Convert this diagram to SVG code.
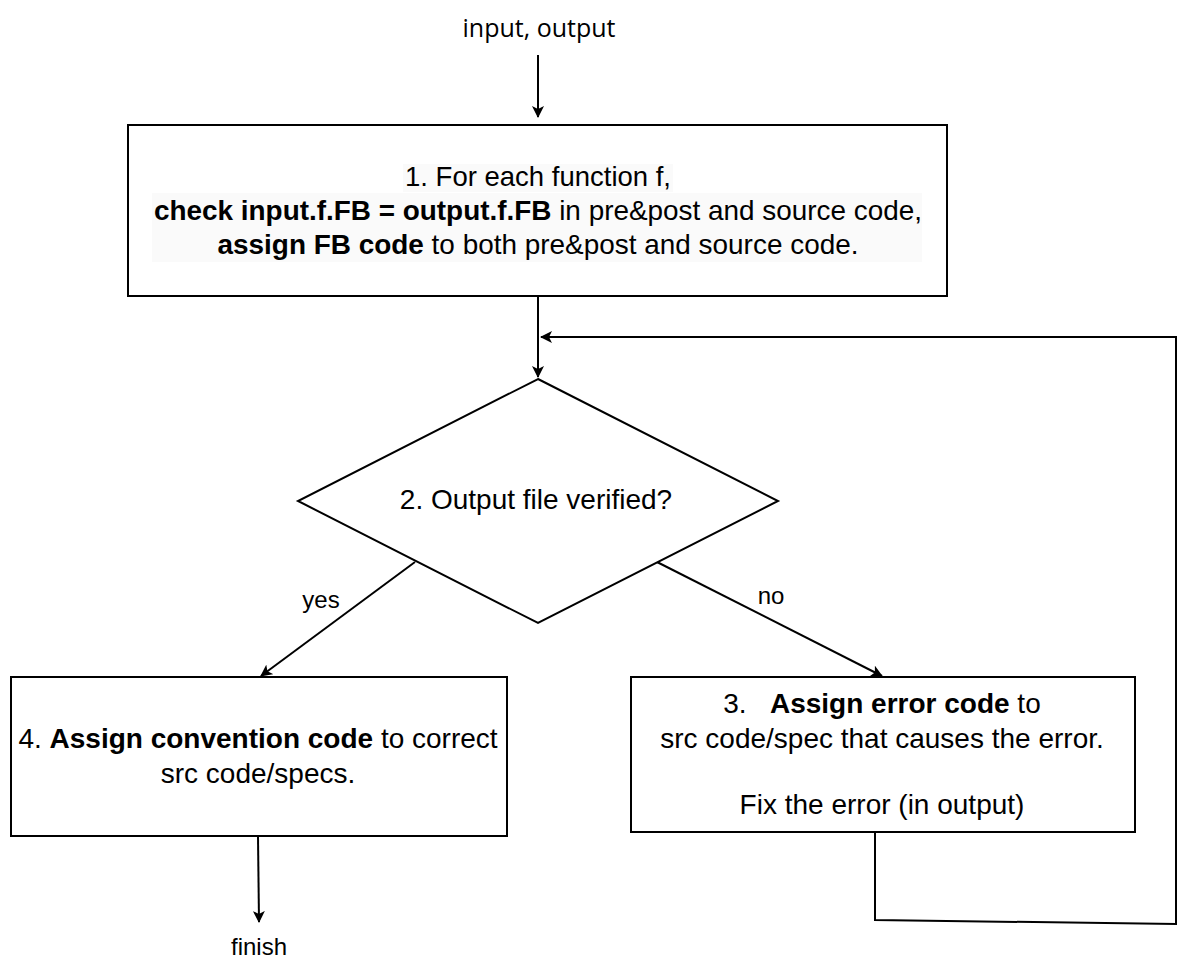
<svg xmlns="http://www.w3.org/2000/svg" width="1199" height="966" viewBox="0 0 1199 966">
<style>
.box{fill:#fff;stroke:#000;stroke-width:2}
.t{font-family:"Liberation Sans",Arial,sans-serif;font-size:28px;fill:#000}
.b{font-weight:bold}
.lbl{font-family:"Liberation Sans",Arial,sans-serif;font-size:24px;fill:#000}
.c{fill:none;stroke:#000;stroke-width:2}
</style>
<defs>
<marker id="ah" viewBox="0 0 12 12" refX="11" refY="6" markerWidth="12" markerHeight="12" markerUnits="userSpaceOnUse" orient="auto">
<path d="M0,0 L12,6 L0,12 L3,6 Z" fill="#000"/>
</marker>
</defs>
<rect width="1199" height="966" fill="#fff"/>
<g id="connectors">
<path class="c" d="M538,55 L538,117" marker-end="url(#ah)"/>
<path class="c" d="M538,297 L538,377" marker-end="url(#ah)"/>
<path class="c" d="M415,562 L261,676" marker-end="url(#ah)"/>
<path class="c" d="M657,562 L882,676" marker-end="url(#ah)"/>
<path class="c" d="M875,832 L875,920 L1176,924 L1176,337 L541,337" marker-end="url(#ah)"/>
<path class="c" d="M258,837 L259,922" marker-end="url(#ah)"/>
</g>
<g id="label-input">
<text x="539" y="37" text-anchor="middle" style="font-family:'Open Sans','DejaVu Sans',sans-serif;font-size:25px">input, output</text>
</g>
<g id="node1">
<rect class="box" x="128" y="125" width="819" height="171"/>
<rect x="403" y="164" width="270" height="28" fill="#fafafa"/>
<rect x="152" y="193" width="770" height="69" fill="#fafafa"/>
<text class="t" x="538" y="186" text-anchor="middle" textLength="266" lengthAdjust="spacingAndGlyphs">1. For each function f,</text>
<text class="t" x="538" y="220" text-anchor="middle" textLength="768" lengthAdjust="spacingAndGlyphs"><tspan class="b">check input.f.FB = output.f.FB</tspan> in pre&amp;post and source code,</text>
<text class="t" x="538" y="254" text-anchor="middle" textLength="641" lengthAdjust="spacingAndGlyphs"><tspan class="b">assign FB code</tspan> to both pre&amp;post and source code.</text>
</g>
<g id="node2">
<path class="box" d="M538,379 L778,501 L538,623 L298,501 Z"/>
<text class="t" x="536" y="509" text-anchor="middle">2. Output file verified?</text>
</g>
<g id="label-yes"><text class="lbl" x="321" y="608" text-anchor="middle">yes</text></g>
<g id="label-no"><text class="lbl" x="771" y="604" text-anchor="middle">no</text></g>
<g id="node4">
<rect class="box" x="11" y="677" width="496" height="159"/>
<text class="t" x="258" y="748" text-anchor="middle"><tspan>4. </tspan><tspan class="b">Assign convention code</tspan><tspan> to correct</tspan></text>
<text class="t" x="258" y="783" text-anchor="middle">src code/specs.</text>
</g>
<g id="node3">
<rect class="box" x="631" y="677" width="504" height="155"/>
<text class="t" x="882" y="713" text-anchor="middle" xml:space="preserve">3.   <tspan class="b">Assign error code</tspan> to</text>
<text class="t" x="882" y="748" text-anchor="middle">src code/spec that causes the error.</text>
<text class="t" x="882" y="814" text-anchor="middle">Fix the error (in output)</text>
</g>
<g id="label-finish"><text class="lbl" x="259" y="955" text-anchor="middle">finish</text></g>
</svg>
